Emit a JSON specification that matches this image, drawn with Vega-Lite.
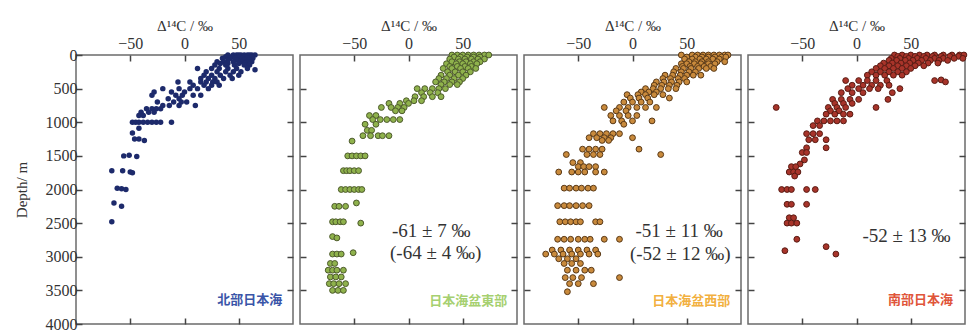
{
"$schema": "https://vega.github.io/schema/vega-lite/v6.json",
"background": "white",
"padding": {"left": 13, "top": 17, "right": 0, "bottom": 0},
"spacing": 3,
"config": {
 "view": {"stroke": "#6b6b6b", "strokeWidth": 1.5},
 "axis": {"domain": false, "grid": false, "labelFont": "Liberation Serif", "labelFontSize": 16, "labelColor": "#333333", "titleFont": "Liberation Serif", "titleFontSize": 15, "titleFontWeight": "normal", "titleColor": "#333333", "tickColor": "#444444", "tickSize": -6, "tickWidth": 1.5, "labelPadding": 5, "format": "d"}
},
"datasets": {
"N": [
{"x":40,"d":0},{"x":45,"d":0},{"x":48,"d":0},{"x":50,"d":0},{"x":52,"d":0},{"x":55,"d":0},{"x":58,"d":0},{"x":60,"d":0},{"x":62,"d":0},{"x":65,"d":0},
{"x":38,"d":25},{"x":44,"d":25},{"x":50,"d":25},{"x":56,"d":25},{"x":62,"d":25},
{"x":35,"d":50},{"x":42,"d":50},{"x":47,"d":50},{"x":53,"d":50},{"x":58,"d":50},{"x":63,"d":50},
{"x":40,"d":75},{"x":48,"d":75},{"x":55,"d":75},{"x":60,"d":75},
{"x":30,"d":100},{"x":36,"d":100},{"x":45,"d":100},{"x":52,"d":100},{"x":57,"d":100},{"x":62,"d":100},
{"x":33,"d":125},{"x":40,"d":125},{"x":50,"d":125},{"x":56,"d":125},
{"x":28,"d":150},{"x":38,"d":150},{"x":46,"d":150},{"x":55,"d":150},{"x":60,"d":150},
{"x":12,"d":200},{"x":25,"d":200},{"x":32,"d":200},{"x":40,"d":200},{"x":48,"d":200},{"x":58,"d":200},{"x":65,"d":220},
{"x":20,"d":250},{"x":30,"d":250},{"x":38,"d":250},{"x":45,"d":250},{"x":52,"d":250},
{"x":18,"d":300},{"x":25,"d":300},{"x":33,"d":300},{"x":42,"d":300},{"x":50,"d":300},
{"x":15,"d":350},{"x":22,"d":350},{"x":28,"d":350},{"x":36,"d":350},{"x":44,"d":350},
{"x":-6,"d":400},{"x":5,"d":400},{"x":15,"d":400},{"x":20,"d":400},{"x":26,"d":400},{"x":30,"d":400},
{"x":8,"d":450},{"x":18,"d":450},{"x":25,"d":450},{"x":32,"d":450},
{"x":-20,"d":500},{"x":-5,"d":500},{"x":5,"d":500},{"x":12,"d":500},{"x":22,"d":500},
{"x":-28,"d":550},{"x":-12,"d":550},{"x":0,"d":550},
{"x":-30,"d":600},{"x":-8,"d":600},{"x":-2,"d":600},{"x":8,"d":600},{"x":15,"d":600},
{"x":-15,"d":650},{"x":-5,"d":650},
{"x":-25,"d":700},{"x":-10,"d":700},{"x":-3,"d":700},{"x":2,"d":700},
{"x":-20,"d":750},{"x":-14,"d":750},{"x":-5,"d":750},{"x":10,"d":750},
{"x":-35,"d":800},{"x":-30,"d":800},{"x":-26,"d":800},{"x":-22,"d":800},
{"x":-40,"d":850},{"x":-33,"d":850},{"x":-28,"d":850},
{"x":-42,"d":900},{"x":-38,"d":900},
{"x":-48,"d":1000},{"x":-45,"d":1000},{"x":-42,"d":1000},{"x":-38,"d":1000},{"x":-34,"d":1000},{"x":-30,"d":1000},{"x":-26,"d":1000},{"x":-22,"d":1000},{"x":-12,"d":1000},
{"x":-42,"d":1090},{"x":-48,"d":1160},
{"x":-46,"d":1250},{"x":-42,"d":1250},{"x":-37,"d":1270},
{"x":-56,"d":1500},{"x":-51,"d":1490},{"x":-44,"d":1510},
{"x":-67,"d":1720},{"x":-57,"d":1720},{"x":-50,"d":1740},{"x":-48,"d":1750},
{"x":-62,"d":1980},{"x":-58,"d":1990},{"x":-54,"d":2000},
{"x":-65,"d":2200},{"x":-58,"d":2250},{"x":-67,"d":2480}
],
"E": [
{"x":40,"d":0},{"x":45,"d":0},{"x":50,"d":0},{"x":55,"d":0},{"x":60,"d":0},{"x":65,"d":0},{"x":70,"d":0},{"x":74,"d":0},
{"x":42,"d":30},{"x":48,"d":30},{"x":54,"d":30},{"x":60,"d":30},{"x":66,"d":30},
{"x":38,"d":60},{"x":46,"d":60},{"x":52,"d":60},{"x":58,"d":60},{"x":64,"d":60},{"x":70,"d":60},
{"x":40,"d":100},{"x":47,"d":100},{"x":53,"d":100},{"x":60,"d":100},{"x":66,"d":100},
{"x":35,"d":130},{"x":44,"d":130},{"x":50,"d":130},{"x":57,"d":130},{"x":63,"d":130},
{"x":38,"d":170},{"x":45,"d":170},{"x":52,"d":170},{"x":58,"d":170},
{"x":32,"d":200},{"x":40,"d":200},{"x":48,"d":200},{"x":55,"d":200},{"x":62,"d":200},
{"x":36,"d":250},{"x":43,"d":250},{"x":50,"d":250},{"x":57,"d":250},
{"x":30,"d":300},{"x":38,"d":300},{"x":46,"d":300},{"x":53,"d":300},
{"x":28,"d":350},{"x":35,"d":350},{"x":42,"d":350},{"x":50,"d":350},
{"x":25,"d":400},{"x":33,"d":400},{"x":40,"d":400},{"x":47,"d":400},
{"x":30,"d":440},{"x":38,"d":440},{"x":45,"d":440},
{"x":8,"d":500},{"x":15,"d":500},{"x":22,"d":500},{"x":28,"d":500},{"x":34,"d":500},
{"x":12,"d":560},{"x":20,"d":560},{"x":27,"d":560},
{"x":6,"d":620},{"x":14,"d":620},{"x":22,"d":620},{"x":30,"d":620},
{"x":-2,"d":680},{"x":5,"d":680},{"x":12,"d":680},
{"x":-18,"d":720},{"x":-8,"d":720},{"x":0,"d":720},
{"x":-25,"d":780},{"x":-16,"d":780},{"x":-10,"d":780},{"x":-4,"d":780},
{"x":-12,"d":830},{"x":-6,"d":830},
{"x":-36,"d":900},{"x":-30,"d":900},
{"x":-33,"d":960},{"x":-26,"d":960},{"x":-20,"d":960},{"x":-14,"d":960},{"x":-8,"d":960},
{"x":-40,"d":1030},{"x":-30,"d":1030},
{"x":-38,"d":1120},{"x":-34,"d":1120},
{"x":-42,"d":1200},{"x":-35,"d":1200},{"x":-28,"d":1200},{"x":-24,"d":1200},{"x":-18,"d":1200},
{"x":-52,"d":1280},
{"x":-56,"d":1500},{"x":-52,"d":1500},{"x":-48,"d":1500},{"x":-44,"d":1500},{"x":-40,"d":1500},
{"x":-60,"d":1720},{"x":-57,"d":1720},{"x":-54,"d":1720},{"x":-50,"d":1720},{"x":-46,"d":1720},
{"x":-62,"d":2000},{"x":-58,"d":2000},{"x":-54,"d":2000},{"x":-50,"d":2000},{"x":-46,"d":2000},{"x":-43,"d":2000},
{"x":-48,"d":2200},
{"x":-68,"d":2250},{"x":-64,"d":2250},{"x":-58,"d":2250},
{"x":-70,"d":2480},{"x":-67,"d":2480},{"x":-63,"d":2480},{"x":-60,"d":2480},{"x":-44,"d":2500},
{"x":-70,"d":2700},{"x":-66,"d":2720},
{"x":-70,"d":2960},{"x":-66,"d":2960},{"x":-62,"d":2960},{"x":-51,"d":2940},
{"x":-72,"d":3100},{"x":-68,"d":3100},
{"x":-74,"d":3200},{"x":-70,"d":3200},{"x":-66,"d":3200},{"x":-60,"d":3200},
{"x":-72,"d":3300},{"x":-67,"d":3300},{"x":-62,"d":3300},
{"x":-73,"d":3400},{"x":-69,"d":3400},{"x":-64,"d":3400},{"x":-58,"d":3400},
{"x":-70,"d":3500},{"x":-65,"d":3500},{"x":-60,"d":3500}
],
"W": [
{"x":45,"d":0},{"x":55,"d":0},{"x":60,"d":0},{"x":65,"d":0},{"x":70,"d":0},{"x":75,"d":0},{"x":80,"d":0},{"x":85,"d":0},{"x":88,"d":0},
{"x":50,"d":30},{"x":58,"d":30},{"x":64,"d":30},{"x":70,"d":30},{"x":76,"d":30},{"x":82,"d":30},{"x":86,"d":30},
{"x":48,"d":60},{"x":55,"d":60},{"x":62,"d":60},{"x":68,"d":60},{"x":74,"d":60},{"x":80,"d":60},
{"x":52,"d":100},{"x":58,"d":100},{"x":64,"d":100},{"x":70,"d":100},{"x":78,"d":100},{"x":85,"d":100},
{"x":45,"d":130},{"x":50,"d":130},{"x":57,"d":130},{"x":63,"d":130},{"x":70,"d":130},{"x":76,"d":130},
{"x":46,"d":170},{"x":53,"d":170},{"x":60,"d":170},{"x":66,"d":170},{"x":72,"d":170},
{"x":40,"d":200},{"x":47,"d":200},{"x":54,"d":200},{"x":61,"d":200},{"x":68,"d":200},{"x":75,"d":200},
{"x":38,"d":250},{"x":45,"d":250},{"x":52,"d":250},{"x":58,"d":250},
{"x":30,"d":300},{"x":37,"d":300},{"x":44,"d":300},{"x":50,"d":300},{"x":56,"d":300},{"x":63,"d":300},
{"x":28,"d":350},{"x":35,"d":350},{"x":42,"d":350},{"x":48,"d":350},
{"x":22,"d":400},{"x":29,"d":400},{"x":36,"d":400},{"x":43,"d":400},{"x":50,"d":400},
{"x":20,"d":450},{"x":27,"d":450},{"x":34,"d":450},{"x":41,"d":450},
{"x":12,"d":500},{"x":19,"d":500},{"x":26,"d":500},{"x":33,"d":500},{"x":40,"d":500},
{"x":8,"d":550},{"x":15,"d":550},{"x":22,"d":550},
{"x":-5,"d":590},{"x":5,"d":590},{"x":12,"d":590},{"x":20,"d":590},{"x":28,"d":590},
{"x":-2,"d":640},{"x":6,"d":640},{"x":14,"d":640},{"x":34,"d":640},
{"x":-8,"d":700},{"x":0,"d":700},{"x":8,"d":700},{"x":16,"d":700},
{"x":-26,"d":780},{"x":-12,"d":780},{"x":-4,"d":780},{"x":4,"d":780},{"x":12,"d":780},{"x":22,"d":780},
{"x":-15,"d":830},{"x":-6,"d":830},
{"x":-20,"d":900},{"x":-12,"d":900},{"x":-4,"d":900},{"x":4,"d":900},
{"x":-18,"d":980},{"x":-10,"d":980},{"x":0,"d":980},{"x":18,"d":980},
{"x":-8,"d":1030},
{"x":-36,"d":1170},{"x":-30,"d":1170},{"x":-24,"d":1170},{"x":-18,"d":1170},{"x":-12,"d":1170},
{"x":-40,"d":1230},{"x":-33,"d":1230},{"x":-26,"d":1230},{"x":-20,"d":1230},{"x":0,"d":1230},
{"x":-28,"d":1270},{"x":-22,"d":1270},
{"x":-46,"d":1400},{"x":-40,"d":1400},{"x":-34,"d":1400},{"x":-28,"d":1400},{"x":6,"d":1400},
{"x":-61,"d":1480},{"x":-42,"d":1480},{"x":-36,"d":1480},{"x":-30,"d":1480},{"x":26,"d":1480},
{"x":-55,"d":1600},{"x":-48,"d":1600},
{"x":-50,"d":1660},{"x":-45,"d":1660},{"x":-40,"d":1660},{"x":-34,"d":1660},
{"x":-68,"d":1740},{"x":-56,"d":1740},{"x":-50,"d":1740},{"x":-44,"d":1740},{"x":-34,"d":1740},{"x":-26,"d":1740},
{"x":-63,"d":1980},{"x":-58,"d":1980},{"x":-52,"d":1980},{"x":-47,"d":1980},{"x":-41,"d":1980},{"x":-36,"d":1980},
{"x":-69,"d":2240},{"x":-63,"d":2240},{"x":-58,"d":2240},{"x":-52,"d":2240},{"x":-46,"d":2240},{"x":-40,"d":2240},
{"x":-67,"d":2480},{"x":-62,"d":2480},{"x":-57,"d":2480},{"x":-52,"d":2480},{"x":-48,"d":2480},{"x":-34,"d":2480},{"x":-30,"d":2480},
{"x":-69,"d":2740},{"x":-63,"d":2740},{"x":-57,"d":2740},{"x":-50,"d":2740},{"x":-44,"d":2740},{"x":-39,"d":2740},{"x":-26,"d":2740},{"x":-12,"d":2740},
{"x":-74,"d":2900},{"x":-66,"d":2900},{"x":-58,"d":2900},{"x":-50,"d":2900},{"x":-42,"d":2900},{"x":-34,"d":2900},
{"x":-80,"d":2960},{"x":-72,"d":2960},{"x":-64,"d":2960},{"x":-56,"d":2960},{"x":-48,"d":2960},{"x":-40,"d":2960},{"x":-32,"d":2960},
{"x":-68,"d":3030},{"x":-60,"d":3030},{"x":-52,"d":3030},
{"x":-63,"d":3100},{"x":-56,"d":3100},{"x":-48,"d":3100},
{"x":-60,"d":3200},{"x":-52,"d":3200},{"x":-44,"d":3200},{"x":-38,"d":3200},
{"x":-62,"d":3310},{"x":-55,"d":3310},{"x":-47,"d":3310},{"x":-12,"d":3310},
{"x":-58,"d":3400},{"x":-50,"d":3400},{"x":-36,"d":3400},
{"x":-60,"d":3520}
],
"S": [
{"x":35,"d":0},{"x":42,"d":0},{"x":50,"d":0},{"x":58,"d":0},{"x":65,"d":0},{"x":72,"d":0},{"x":80,"d":0},{"x":88,"d":0},{"x":95,"d":0},{"x":99,"d":0},
{"x":38,"d":20},{"x":46,"d":20},{"x":54,"d":20},{"x":62,"d":20},{"x":70,"d":20},{"x":78,"d":20},{"x":86,"d":20},{"x":94,"d":20},
{"x":32,"d":50},{"x":40,"d":50},{"x":48,"d":50},{"x":56,"d":50},{"x":64,"d":50},{"x":72,"d":50},{"x":80,"d":50},{"x":90,"d":50},{"x":98,"d":50},
{"x":30,"d":80},{"x":37,"d":80},{"x":45,"d":80},{"x":52,"d":80},{"x":60,"d":80},{"x":68,"d":80},{"x":76,"d":80},{"x":84,"d":80},
{"x":25,"d":120},{"x":33,"d":120},{"x":41,"d":120},{"x":49,"d":120},{"x":57,"d":120},{"x":66,"d":120},{"x":75,"d":120},
{"x":22,"d":160},{"x":30,"d":160},{"x":38,"d":160},{"x":46,"d":160},{"x":54,"d":160},{"x":62,"d":160},
{"x":18,"d":200},{"x":26,"d":200},{"x":34,"d":200},{"x":42,"d":200},{"x":50,"d":200},
{"x":14,"d":250},{"x":22,"d":250},{"x":30,"d":250},{"x":38,"d":250},{"x":46,"d":250},
{"x":10,"d":300},{"x":18,"d":300},{"x":26,"d":300},{"x":34,"d":300},{"x":42,"d":300},
{"x":-10,"d":380},{"x":2,"d":380},{"x":10,"d":380},{"x":18,"d":380},{"x":28,"d":380},{"x":72,"d":380},{"x":78,"d":370},{"x":82,"d":400},
{"x":-4,"d":450},{"x":6,"d":450},{"x":14,"d":450},{"x":22,"d":450},{"x":30,"d":450},
{"x":-8,"d":500},{"x":2,"d":500},{"x":12,"d":500},{"x":20,"d":500},{"x":40,"d":500},
{"x":-14,"d":560},{"x":-4,"d":560},{"x":6,"d":560},{"x":33,"d":560},
{"x":-22,"d":660},{"x":-14,"d":660},{"x":-6,"d":660},{"x":2,"d":660},{"x":29,"d":660},
{"x":-20,"d":720},{"x":-12,"d":720},{"x":-4,"d":720},
{"x":-74,"d":780},{"x":-26,"d":780},{"x":-18,"d":780},{"x":-10,"d":780},{"x":18,"d":780},
{"x":-24,"d":830},{"x":-16,"d":830},
{"x":-28,"d":880},{"x":-20,"d":880},{"x":-12,"d":880},{"x":-6,"d":880},
{"x":-36,"d":980},{"x":-30,"d":980},{"x":-24,"d":980},{"x":-18,"d":980},{"x":-12,"d":980},
{"x":-40,"d":1050},{"x":-34,"d":1050},
{"x":-46,"d":1170},{"x":-40,"d":1170},{"x":-34,"d":1170},
{"x":-44,"d":1260},{"x":-38,"d":1260},{"x":-28,"d":1260},
{"x":-46,"d":1380},{"x":-28,"d":1380},
{"x":-50,"d":1450},{"x":-46,"d":1450},
{"x":-48,"d":1560},{"x":-52,"d":1620},
{"x":-60,"d":1660},{"x":-56,"d":1660},
{"x":-62,"d":1740},{"x":-58,"d":1740},{"x":-54,"d":1740},{"x":-57,"d":1800},
{"x":-69,"d":2000},{"x":-64,"d":2000},{"x":-60,"d":2000},{"x":-46,"d":2000},{"x":-38,"d":2000},
{"x":-64,"d":2220},{"x":-60,"d":2220},{"x":-46,"d":2220},
{"x":-62,"d":2420},{"x":-58,"d":2420},
{"x":-64,"d":2500},{"x":-60,"d":2500},{"x":-55,"d":2500},
{"x":-55,"d":2740},{"x":-28,"d":2850},{"x":-66,"d":2910},{"x":-19,"d":2960}
]
},
"hconcat": [
{
 "width": 217, "height": 269,
 "layer": [
  {"data": {"name": "N"},
   "mark": {"type": "point", "filled": true, "size": 30, "color": "#1d2a6b", "opacity": 1},
   "encoding": {
    "x": {"field": "x", "type": "quantitative", "scale": {"domain": [-100, 100], "nice": false}, "axis": {"orient": "top", "values": [-50, 0, 50], "title": "Δ¹⁴C / ‰", "titlePadding": 2, "labelPadding": 10}},
    "y": {"field": "d", "type": "quantitative", "scale": {"domain": [0, 4000], "reverse": true, "nice": false}, "axis": {"orient": "left", "values": [0,500,1000,1500,2000,2500,3000,3500,4000], "title": "Depth/ m", "titlePadding": 16}}
   }},
  {"data": {"name": "N"},
   "mark": {"type": "point", "opacity": 0},
   "encoding": {
    "x": {"field": "x", "type": "quantitative", "axis": {"orient": "bottom", "values": [-50, 0, 50], "labels": false, "title": null}},
    "y": {"field": "d", "type": "quantitative", "axis": {"orient": "right", "values": [500,1000,1500,2000,2500,3000,3500], "labels": false, "title": null}}
   }},
  {"data": {"values": [{"t": "北部日本海"}]},
   "mark": {"type": "text", "font": "Noto Sans CJK JP", "fontWeight": "bold", "fontSize": 13, "color": "#3a55a8", "align": "right", "baseline": "middle"},
   "encoding": {"x": {"datum": 90, "axis": null}, "y": {"datum": 3650, "axis": null}, "text": {"field": "t"}}}
 ],
 "resolve": {"axis": {"x": "independent", "y": "independent"}}
},
{
 "width": 217, "height": 269,
 "layer": [
  {"data": {"name": "E"},
   "mark": {"type": "point", "filled": true, "size": 34, "color": "#8fb24c", "stroke": "#4d5a2c", "strokeWidth": 1, "opacity": 1},
   "encoding": {
    "x": {"field": "x", "type": "quantitative", "scale": {"domain": [-100, 100], "nice": false}, "axis": {"orient": "top", "values": [-50, 0, 50], "title": "Δ¹⁴C / ‰", "titlePadding": 2, "labelPadding": 10}},
    "y": {"field": "d", "type": "quantitative", "scale": {"domain": [0, 4000], "reverse": true, "nice": false}, "axis": {"orient": "left", "values": [500,1000,1500,2000,2500,3000,3500], "labels": false, "title": null}}
   }},
  {"data": {"name": "E"},
   "mark": {"type": "point", "opacity": 0},
   "encoding": {
    "x": {"field": "x", "type": "quantitative", "axis": {"orient": "bottom", "values": [-50, 0, 50], "labels": false, "title": null}},
    "y": {"field": "d", "type": "quantitative", "axis": {"orient": "right", "values": [500,1000,1500,2000,2500,3000,3500], "labels": false, "title": null}}
   }},
  {"data": {"values": [{"t": "日本海盆東部"}]},
   "mark": {"type": "text", "font": "Noto Sans CJK JP", "fontWeight": "bold", "fontSize": 13, "color": "#a6d070", "align": "right", "baseline": "middle"},
   "encoding": {"x": {"datum": 91, "axis": null}, "y": {"datum": 3660, "axis": null}, "text": {"field": "t"}}},
  {"data": {"values": [{"t": "-61 ± 7 ‰"}]},
   "mark": {"type": "text", "font": "Liberation Serif", "fontSize": 19, "color": "#333333", "align": "center", "baseline": "middle"},
   "encoding": {"x": {"datum": 21, "axis": null}, "y": {"datum": 2610, "axis": null}, "text": {"field": "t"}}},
  {"data": {"values": [{"t": "(-64 ± 4 ‰)"}]},
   "mark": {"type": "text", "font": "Liberation Serif", "fontSize": 19, "color": "#333333", "align": "center", "baseline": "middle"},
   "encoding": {"x": {"datum": 25, "axis": null}, "y": {"datum": 2950, "axis": null}, "text": {"field": "t"}}}
 ],
 "resolve": {"axis": {"x": "independent", "y": "independent"}}
},
{
 "width": 217, "height": 269,
 "layer": [
  {"data": {"name": "W"},
   "mark": {"type": "point", "filled": true, "size": 34, "color": "#c98a3c", "stroke": "#5a3a18", "strokeWidth": 1, "opacity": 1},
   "encoding": {
    "x": {"field": "x", "type": "quantitative", "scale": {"domain": [-100, 100], "nice": false}, "axis": {"orient": "top", "values": [-50, 0, 50], "title": "Δ¹⁴C / ‰", "titlePadding": 2, "labelPadding": 10}},
    "y": {"field": "d", "type": "quantitative", "scale": {"domain": [0, 4000], "reverse": true, "nice": false}, "axis": {"orient": "left", "values": [500,1000,1500,2000,2500,3000,3500], "labels": false, "title": null}}
   }},
  {"data": {"name": "W"},
   "mark": {"type": "point", "opacity": 0},
   "encoding": {
    "x": {"field": "x", "type": "quantitative", "axis": {"orient": "bottom", "values": [-50, 0, 50], "labels": false, "title": null}},
    "y": {"field": "d", "type": "quantitative", "axis": {"orient": "right", "values": [500,1000,1500,2000,2500,3000,3500], "labels": false, "title": null}}
   }},
  {"data": {"values": [{"t": "日本海盆西部"}]},
   "mark": {"type": "text", "font": "Noto Sans CJK JP", "fontWeight": "bold", "fontSize": 13, "color": "#f2b040", "align": "right", "baseline": "middle"},
   "encoding": {"x": {"datum": 90, "axis": null}, "y": {"datum": 3660, "axis": null}, "text": {"field": "t"}}},
  {"data": {"values": [{"t": "-51 ± 11 ‰"}]},
   "mark": {"type": "text", "font": "Liberation Serif", "fontSize": 19, "color": "#333333", "align": "center", "baseline": "middle"},
   "encoding": {"x": {"datum": 43, "axis": null}, "y": {"datum": 2620, "axis": null}, "text": {"field": "t"}}},
  {"data": {"values": [{"t": "(-52 ± 12 ‰)"}]},
   "mark": {"type": "text", "font": "Liberation Serif", "fontSize": 19, "color": "#333333", "align": "center", "baseline": "middle"},
   "encoding": {"x": {"datum": 44, "axis": null}, "y": {"datum": 2960, "axis": null}, "text": {"field": "t"}}}
 ],
 "resolve": {"axis": {"x": "independent", "y": "independent"}}
},
{
 "width": 217, "height": 269,
 "layer": [
  {"data": {"name": "S"},
   "mark": {"type": "point", "filled": true, "size": 34, "color": "#a8342a", "stroke": "#5a1c14", "strokeWidth": 1, "opacity": 1},
   "encoding": {
    "x": {"field": "x", "type": "quantitative", "scale": {"domain": [-100, 100], "nice": false}, "axis": {"orient": "top", "values": [-50, 0, 50], "title": "Δ¹⁴C / ‰", "titlePadding": 2, "labelPadding": 10}},
    "y": {"field": "d", "type": "quantitative", "scale": {"domain": [0, 4000], "reverse": true, "nice": false}, "axis": {"orient": "left", "values": [500,1000,1500,2000,2500,3000,3500], "labels": false, "title": null}}
   }},
  {"data": {"name": "S"},
   "mark": {"type": "point", "opacity": 0},
   "encoding": {
    "x": {"field": "x", "type": "quantitative", "axis": {"orient": "bottom", "values": [-50, 0, 50], "labels": false, "title": null}},
    "y": {"field": "d", "type": "quantitative", "axis": {"orient": "right", "values": [500,1000,1500,2000,2500,3000,3500], "labels": false, "title": null}}
   }},
  {"data": {"values": [{"t": "南部日本海"}]},
   "mark": {"type": "text", "font": "Noto Sans CJK JP", "fontWeight": "bold", "fontSize": 13, "color": "#e0553a", "align": "right", "baseline": "middle"},
   "encoding": {"x": {"datum": 89, "axis": null}, "y": {"datum": 3650, "axis": null}, "text": {"field": "t"}}},
  {"data": {"values": [{"t": "-52 ± 13 ‰"}]},
   "mark": {"type": "text", "font": "Liberation Serif", "fontSize": 19, "color": "#333333", "align": "center", "baseline": "middle"},
   "encoding": {"x": {"datum": 46, "axis": null}, "y": {"datum": 2690, "axis": null}, "text": {"field": "t"}}}
 ],
 "resolve": {"axis": {"x": "independent", "y": "independent"}}
}
]
}
